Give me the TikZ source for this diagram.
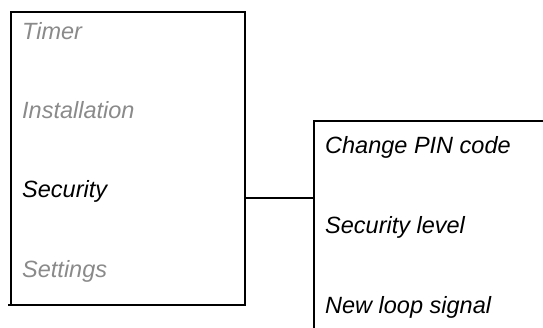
\documentclass[tikz,border=0pt]{standalone}
\usepackage{fontspec}
\setmainfont{Liberation Sans}
\definecolor{dimtext}{HTML}{8A8A8A}
\tikzset{
  frame/.style={line width=2pt, line cap=rect},
  item/.style={anchor=base west, inner sep=0pt, font=\itshape\fontsize{23.5}{28}\selectfont},
  dimitem/.style={item, text=dimtext},
}
\begin{document}
\begin{tikzpicture}[x=1pt,y=-1pt]
\useasboundingbox (0,0) rectangle (543,328);
% left menu box
\coordinate (tl) at (11,12.5);
\coordinate (tr) at (245,12.5);
\coordinate (br) at (245,305);
\coordinate (bl) at (9,305);
\draw[frame] (bl) -- (br) -- (tr) -- (tl) -- (11,305);
\node[dimitem] (timer) at (22,40) {Timer};
\node[dimitem] (install) at (22,119) {Installation};
\node[item] (security) at (22,198) {Security};
\node[dimitem] (settings) at (22,278) {Settings};
% submenu box (open at right and bottom)
\coordinate (stl) at (314,121);
\coordinate (str) at (545,121);
\coordinate (sbl) at (314,330);
\draw[frame] (str) -- (stl) -- (sbl);
\node[item] (pin) at (325,154) {Change PIN code};
\node[item] (level) at (325,234) {Security level};
\node[item] (loop) at (325,313) {New loop signal};
% connector
\coordinate (ca) at (245,198);
\coordinate (cb) at (314,198);
\draw[line width=2pt] (ca) -- (cb);
\end{tikzpicture}
\end{document}
